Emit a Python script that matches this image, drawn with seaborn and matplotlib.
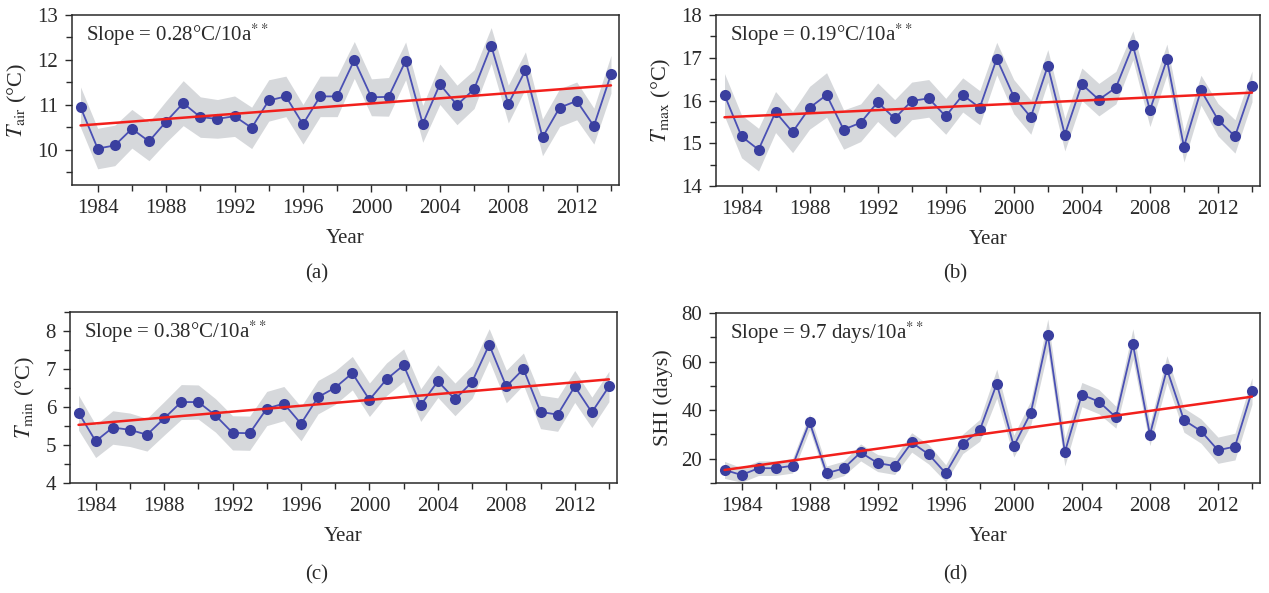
import numpy as np
import pandas as pd
import matplotlib
matplotlib.use("Agg")
import matplotlib.pyplot as plt
from matplotlib.ticker import MultipleLocator, FixedLocator
import seaborn as sns

# ---- data -------------------------------------------------------------
years = list(range(1983, 2015))

t_air = [10.95, 10.03, 10.10, 10.47, 10.19, 10.63, 11.04, 10.73, 10.69, 10.75,
         10.49, 11.10, 11.19, 10.57, 11.19, 11.19, 12.00, 11.17, 11.18, 11.98,
         10.58, 11.46, 11.00, 11.35, 12.32, 11.02, 11.77, 10.28, 10.94, 11.09,
         10.53, 11.68]
t_air_err = [0.45, 0.45, 0.45, 0.43, 0.43, 0.46, 0.50, 0.45, 0.43, 0.45,
             0.46, 0.46, 0.45, 0.44, 0.45, 0.45, 0.41, 0.41, 0.43, 0.42,
             0.41, 0.45, 0.44, 0.43, 0.40, 0.42, 0.41, 0.41, 0.42, 0.42,
             0.40, 0.42]

t_max = [16.13, 15.16, 14.85, 15.73, 15.26, 15.83, 16.13, 15.32, 15.48, 15.96,
         15.58, 15.99, 16.05, 15.63, 16.13, 15.83, 16.98, 16.09, 15.61, 16.81,
         15.20, 16.38, 16.02, 16.30, 17.29, 15.77, 16.96, 14.92, 16.24, 15.55,
         15.16, 16.33]
t_max_err = [0.50, 0.50, 0.50, 0.48, 0.48, 0.50, 0.52, 0.46, 0.44, 0.45,
             0.44, 0.44, 0.44, 0.42, 0.40, 0.40, 0.38, 0.40, 0.40, 0.38,
             0.38, 0.38, 0.38, 0.38, 0.34, 0.38, 0.36, 0.36, 0.35, 0.38,
             0.39, 0.36]

t_min = [5.85, 5.10, 5.46, 5.40, 5.27, 5.70, 6.13, 6.13, 5.78, 5.32,
         5.31, 5.96, 6.09, 5.56, 6.26, 6.51, 6.89, 6.19, 6.73, 7.10,
         6.05, 6.68, 6.20, 6.66, 7.64, 6.54, 7.00, 5.87, 5.80, 6.54,
         5.86, 6.54]
t_min_err = [0.46, 0.43, 0.44, 0.44, 0.43, 0.44, 0.46, 0.45, 0.44, 0.45,
             0.45, 0.45, 0.45, 0.45, 0.44, 0.44, 0.44, 0.44, 0.43, 0.43,
             0.43, 0.43, 0.43, 0.43, 0.42, 0.43, 0.42, 0.44, 0.44, 0.42,
             0.40, 0.40]

shi = [15.4, 13.3, 16.1, 16.1, 17.1, 35.1, 14.0, 16.0, 22.6, 18.2,
       17.0, 26.7, 21.8, 14.0, 26.1, 31.7, 50.9, 25.2, 38.9, 71.0,
       22.7, 46.4, 43.5, 37.1, 67.2, 29.9, 56.9, 35.9, 31.4, 23.5,
       25.0, 47.9]
shi_err = [3.5, 3.0, 3.0, 3.0, 3.0, 3.2, 3.0, 3.0, 3.5, 3.5,
           3.5, 4.0, 4.0, 3.5, 4.0, 4.5, 6.0, 4.5, 5.0, 6.5,
           5.7, 5.0, 5.0, 4.5, 6.3, 4.5, 5.5, 5.0, 5.0, 5.4,
           5.5, 5.5]

ylabels = [r"$T_{\mathrm{air}}$ (°C)", r"$T_{\mathrm{max}}$ (°C)",
           r"$T_{\mathrm{min}}$ (°C)", "SHI (days)"]
slope_texts = [r"Slope = 0.28°C/10a$^{**}$", r"Slope = 0.19°C/10a$^{**}$",
               r"Slope = 0.38°C/10a$^{**}$", r"Slope = 9.7 days/10a$^{**}$"]
captions = ["(a)", "(b)", "(c)", "(d)"]

# ---- style ------------------------------------------------------------
sns.set_theme(style="ticks")
plt.rcParams["font.family"] = ["Liberation Serif", "DejaVu Serif"]
plt.rcParams["mathtext.fontset"] = "stix"
plt.rcParams["axes.unicode_minus"] = False

DOT = "#3a3f9f"
LINE = "#4a50b4"
BAND = "#d6d8db"
TREND = "#f2201c"
INK = "#2a2a2a"
FS = 15

W, H = 1269, 593
fig = plt.figure(figsize=(W / 100, H / 100), dpi=100)
fig.patch.set_facecolor("white")


def px_axes(x0, y0, x1, y1):
    return fig.add_axes([x0 / W, 1 - y1 / H, (x1 - x0) / W, (y1 - y0) / H])


boxes = [(72, 15, 619, 185), (716, 15, 1260, 186),
         (70, 312, 617, 483), (716, 313, 1260, 483)]
series = [(t_air, t_air_err), (t_max, t_max_err), (t_min, t_min_err), (shi, shi_err)]
ylims = [(9.22, 13), (14, 18), (4, 8.5), (10, 80)]
ymajor = [1, 1, 1, 20]
yminor = [0.5, 0.5, 0.5, 10]
caption_pos = [(317, 274), (955, 274), (317, 575), (955, 575)]

for i in range(4):
    ax = px_axes(*boxes[i])
    vals, err = series[i]
    df = pd.DataFrame({"Year": years, "value": vals, "err": err})
    lo = df["value"] - df["err"]
    hi = df["value"] + df["err"]

    # spread band, yearly series and linear trend
    ax.fill_between(df["Year"], lo, hi, color=BAND, lw=0, zorder=1)
    sns.lineplot(data=df, x="Year", y="value", ax=ax, color=LINE, lw=1.3,
                 marker="o", markersize=8, markerfacecolor=DOT,
                 markeredgecolor=DOT, markeredgewidth=0, zorder=3)
    sns.regplot(data=df, x="Year", y="value", ax=ax, scatter=False, ci=None,
                truncate=True, color=TREND, line_kws={"lw": 1.8, "zorder": 4})

    ax.set_xlim(1982.5, 2014.47)
    ax.set_ylim(*ylims[i])
    ax.xaxis.set_major_locator(FixedLocator(range(1984, 2013, 4)))
    ax.xaxis.set_minor_locator(FixedLocator(range(1986, 2015, 4)))
    ax.yaxis.set_major_locator(MultipleLocator(ymajor[i]))
    ax.yaxis.set_minor_locator(MultipleLocator(yminor[i]))
    ax.tick_params(axis="both", which="both", direction="out", color=INK,
                   labelcolor=INK, labelsize=FS, top=False, right=False)
    ax.tick_params(axis="both", which="major", length=5, width=1.0, pad=5)
    ax.tick_params(axis="both", which="minor", length=4, width=1.0)
    for sp in ax.spines.values():
        sp.set_visible(True)
        sp.set_color(INK)
        sp.set_linewidth(1.1)

    ax.set_xlabel("Year", fontsize=FS, color=INK, labelpad=8)
    ax.set_ylabel(ylabels[i], fontsize=FS + 1, color=INK, labelpad=6)
    ax.text(0.026, 0.885, slope_texts[i], transform=ax.transAxes,
            fontsize=FS, color=INK, ha="left", va="center", zorder=5)

    cx, cy = caption_pos[i]
    fig.text(cx / W, 1 - cy / H, captions[i], fontsize=FS, color=INK,
             ha="center", va="center")

fig.savefig("out.png", dpi=100, facecolor="white")
